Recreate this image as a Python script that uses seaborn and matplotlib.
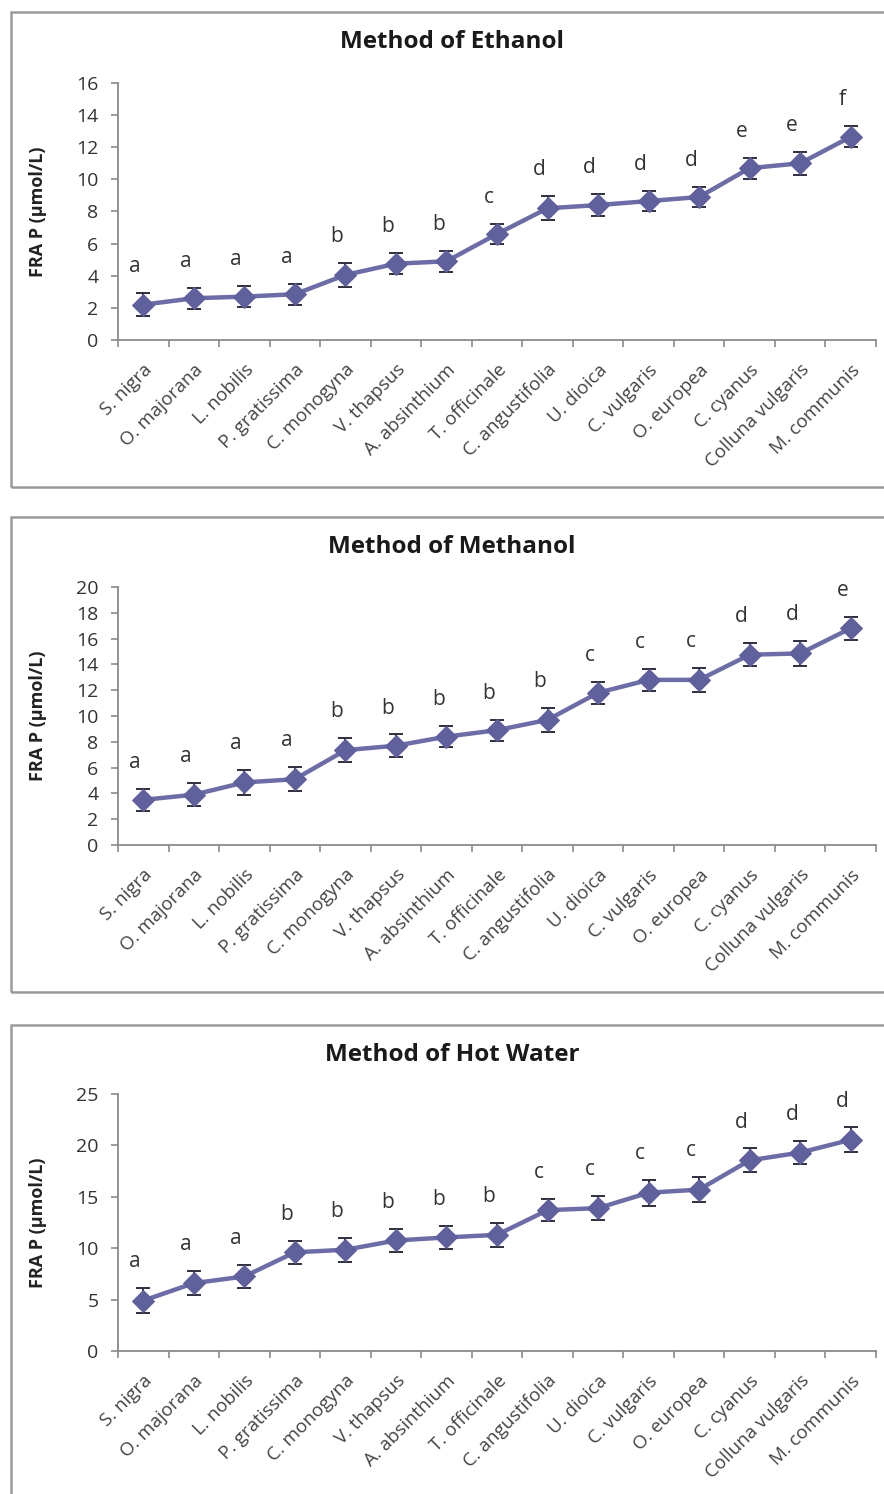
import numpy as np
import matplotlib
matplotlib.use("Agg")
import matplotlib.pyplot as plt
import seaborn as sns
import pandas as pd
from matplotlib.patches import Rectangle

species = ["S. nigra", "O. majorana", "L. nobilis", "P. gratissima", "C. monogyna",
           "V. thapsus", "A. absinthium", "T. officinale", "C. angustifolia", "U. dioica",
           "C. vulgaris", "O. europea", "C. cyanus", "Colluna vulgaris", "M. communis"]

ethanol_mean = [2.2, 2.6, 2.7, 2.85, 4.05, 4.75, 4.9, 6.6, 8.2, 8.4, 8.65, 8.9, 10.7, 11.0, 12.65]
ethanol_err = [0.73, 0.65, 0.65, 0.65, 0.73, 0.65, 0.67, 0.6, 0.75, 0.7, 0.65, 0.65, 0.65, 0.7, 0.65]
ethanol_letters = ["a", "a", "a", "a", "b", "b", "b", "c", "d", "d", "d", "d", "e", "e", "f"]

methanol_mean = [3.5, 3.9, 4.85, 5.1, 7.35, 7.7, 8.4, 8.9, 9.7, 11.8, 12.8, 12.8, 14.75, 14.85, 16.8]
methanol_err = [0.85, 0.9, 0.95, 0.95, 0.93, 0.87, 0.8, 0.8, 0.92, 0.87, 0.85, 0.95, 0.88, 0.95, 0.88]
methanol_letters = ["a", "a", "a", "a", "b", "b", "b", "b", "b", "c", "c", "c", "d", "d", "e"]

hotwater_mean = [4.9, 6.6, 7.25, 9.6, 9.85, 10.75, 11.05, 11.3, 13.7, 13.9, 15.4, 15.7, 18.55, 19.3, 20.55]
hotwater_err = [1.2, 1.2, 1.1, 1.1, 1.15, 1.1, 1.1, 1.2, 1.1, 1.15, 1.25, 1.25, 1.15, 1.15, 1.2]
hotwater_letters = ["a", "a", "a", "b", "b", "b", "b", "b", "c", "c", "c", "c", "d", "d", "d"]

titles = ["Method of Ethanol", "Method of Methanol", "Method of Hot Water"]
y_max = [16, 20, 25]
y_step = [2, 2, 5]
y_label = "FRA P (µmol/L)"

sns.set_theme(style="white")
plt.rcParams["font.family"] = ["Open Sans", "DejaVu Sans"]

W, H = 884, 1494
fig = plt.figure(figsize=(W / 100, H / 100), dpi=100)

def fx(px):
    return px / W

def fy(py):
    return 1 - py / H

line_col = "#6C6CA6"
marker_col = "#60609C"
err_col = "#2E2E3E"
spine_col = "#8A8A8A"
text_col = "#333333"

panels = [
    (ethanol_mean, ethanol_err, ethanol_letters),
    (methanol_mean, methanol_err, methanol_letters),
    (hotwater_mean, hotwater_err, hotwater_letters),
]

box_tops = [12, 517, 1025]
box_bottoms = [487, 992, 1540]
title_y = [42, 547, 1055]
axis_zero = [340, 845, 1351]
axis_top = [83, 587, 1094]
ax_left, ax_right = 118, 876

for i, (mean, err, letters) in enumerate(panels):
    fig.patches.append(Rectangle((fx(11), fy(box_bottoms[i])), fx(900 - 11),
                                 (box_bottoms[i] - box_tops[i]) / H,
                                 transform=fig.transFigure, fill=False,
                                 edgecolor="#9A9A9A", linewidth=1.8, zorder=0))
    ax = fig.add_axes([fx(ax_left), fy(axis_zero[i]), fx(ax_right - ax_left),
                       (axis_zero[i] - axis_top[i]) / H])
    df = pd.DataFrame({"pos": np.arange(len(species)), "mean": mean, "err": err,
                       "species": species})
    ax.errorbar(df["pos"], df["mean"], yerr=df["err"], fmt="none", ecolor=err_col,
                elinewidth=1.4, capsize=5, capthick=1.4, zorder=2)
    sns.lineplot(data=df, x="pos", y="mean", ax=ax, color=line_col, linewidth=3.2,
                 marker="D", markersize=11.5, markerfacecolor=marker_col,
                 markeredgecolor=marker_col, zorder=3)
    for p, m, e, lt in zip(df["pos"], df["mean"], df["err"], letters):
        ax.annotate(lt, (p, m + e), xytext=(-6, 19), textcoords="offset points",
                    ha="center", va="center", fontsize=15, color=text_col)

    ax.set_xlim(-0.5, len(species) - 0.5)
    ax.set_ylim(0, y_max[i])
    ax.set_yticks(np.arange(0, y_max[i] + 0.1, y_step[i]))
    ax.set_xticks(np.arange(-0.5, len(species), 1))
    ax.set_xticklabels([])
    ax.set_xticks(np.arange(len(species)), minor=True)
    ax.set_xticklabels(species, minor=True, rotation=45, ha="right",
                       rotation_mode="anchor", fontsize=13.5, color="#444444")
    ax.tick_params(axis="x", which="major", length=5, width=1.2, color=spine_col,
                   direction="out", bottom=True)
    ax.tick_params(axis="x", which="minor", length=0, pad=15, bottom=True)
    ax.tick_params(axis="y", length=5, width=1.2, color=spine_col, direction="out",
                   left=True, pad=9, labelsize=14, labelcolor=text_col)
    for s in ["top", "right"]:
        ax.spines[s].set_visible(False)
    for s in ["left", "bottom"]:
        ax.spines[s].set_color(spine_col)
        ax.spines[s].set_linewidth(1.3)
    ax.set_xlabel("")
    ax.set_ylabel("")
    ax.grid(False)
    ax.set_facecolor("none")

    fig.text(fx(452), fy(title_y[i]), titles[i], ha="center", va="center",
             fontsize=17.5, fontweight="bold", color="#1A1A1A")
    fig.text(fx(38), fy((axis_zero[i] + axis_top[i]) / 2), y_label, rotation=90,
             ha="center", va="center", fontsize=13, fontweight="bold", color="#222222")

fig.savefig("out.png", dpi=100)
